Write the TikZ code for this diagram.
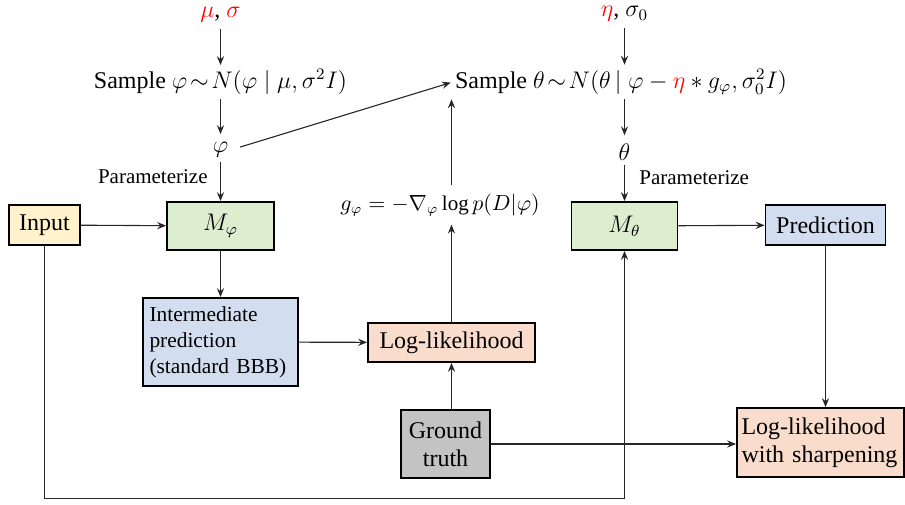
\documentclass[tikz,border=0pt]{standalone}
\usepackage{fontspec}
\setmainfont{Liberation Serif}
\usetikzlibrary{arrows.meta}
\definecolor{cyel}{HTML}{FFF2CC}
\definecolor{cgrn}{HTML}{DDEED0}
\definecolor{cblu}{HTML}{D3DDF0}
\definecolor{cpch}{HTML}{F9DCCB}
\definecolor{cgry}{HTML}{C3C3C3}
\begin{document}
\begin{tikzpicture}[x=0.5pt,y=-0.5pt,
  arr/.style={-{Stealth[length=4.5pt,width=3.6pt,inset=1.6pt]}, line width=0.55pt, draw=black!85},
  box/.style={draw, line width=0.9pt, font=\fontsize{12}{14}\selectfont, inner sep=0pt},
  lbl/.style={font=\fontsize{12}{13}\selectfont, inner sep=1pt},
  small/.style={font=\fontsize{10.5}{12}\selectfont, inner sep=1pt}]
\useasboundingbox (0,0) rectangle (905,504);

% text nodes
\node[lbl] (ms) at (220.5,15) {{\color{red}$\mu$}, {\color{red}$\sigma$}};
\node[lbl] (s1) at (220.5,82) {Sample $\varphi\!\sim\! N(\varphi \mid \mu, \sigma^2 I)$};
\node[lbl] (phi) at (220.5,150) {$\varphi$};
\node[small, anchor=east] (p1) at (210,177) {Parameterize};
\node[lbl] (es) at (624.5,14) {{\color{red}$\eta$}, $\sigma_0$};
\node[lbl] (s2) at (621,82) {Sample $\theta\!\sim\! N(\theta\,|\; \varphi - {\color{red}\eta} * g_{\varphi}, \sigma_0^2 I)$};
\node[lbl] (th) at (624.5,152) {$\theta$};
\node[small, anchor=west] (p2) at (637,178) {Parameterize};
\node[small] (g) at (440,205) {$g_{\varphi} = -\nabla_{\varphi}\log p(D|\varphi)$};

% boxes
\node[box, fill=cyel, minimum width=35.5pt, minimum height=20pt] (in) at (44.5,225) {Input};
\node[box, fill=cgrn, minimum width=53.5pt, minimum height=24pt] (mp) at (220.5,226) {$M_{\varphi}$};
\node[box, fill=cblu, minimum width=77.5pt, minimum height=44pt, align=left, text width=71pt, font=\fontsize{10.7}{13}\selectfont] (int) at (220.5,342) {Intermediate\\prediction\\(standard BBB)};
\node[box, fill=cpch, minimum width=83.5pt, minimum height=19.5pt] (ll) at (451.5,342.5) {Log-likelihood};
\node[box, fill=cgry, minimum width=44.5pt, minimum height=34pt, align=center] (gt) at (445.5,444) {Ground\\truth};
\node[box, fill=cgrn, minimum width=53pt, minimum height=24pt] (mt) at (624.5,226) {$M_{\theta}$};
\node[box, fill=cblu, minimum width=60pt, minimum height=20pt] (pred) at (825.5,225) {Prediction};
\node[box, fill=cpch, minimum width=83.5pt, minimum height=34.5pt, align=left, text width=79pt] (lls) at (820.5,442.5) {Log-likelihood\\with sharpening};

\coordinate (low) at (0,498.5);

% connectors
\draw[arr, shorten <=2pt, shorten >=1pt] (ms) -- (s1);
\draw[arr, shorten <=1pt, shorten >=3pt] (s1) -- (phi);
\draw[arr, shorten <=1pt] (phi) -- (mp);
\draw[arr, shorten <=5pt, shorten >=1pt] (phi.east) -- (s2.west);
\draw[arr, shorten <=2pt, shorten >=1pt] (es) -- (s2.north -| es);
\draw[arr, shorten <=1pt, shorten >=3pt] (s2.south -| th) -- (th);
\draw[arr, shorten <=1pt] (th) -- (mt);
\draw[arr] (in) -- (mp);
\draw[arr] (mp) -- (int);
\draw[arr] (int) -- (ll);
\draw[arr] (gt.north -| ll.south) -- (ll.south);
\draw[arr, shorten >=3pt] (ll.north) -- (ll.north |- g.south);
\draw[arr, shorten <=3pt, shorten >=1pt] (g.north -| ll.north) -- (s2.south -| ll.north);
\draw[arr] (mt) -- (pred);
\draw[arr] (pred.south) -- (pred.south |- lls.north);
\draw[arr] (gt.east) -- (gt.east -| lls.west);
\draw[arr] (in.south) -- (in.south |- low) -| (mt.south);
\end{tikzpicture}
\end{document}
